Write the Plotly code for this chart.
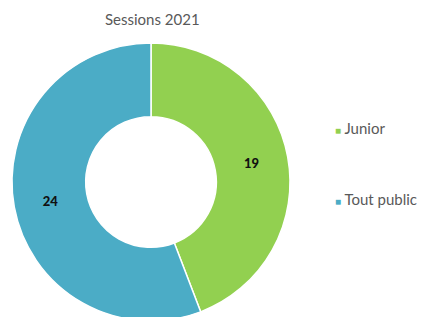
import plotly.graph_objects as go

title = "Sessions 2021"
labels = ["Junior", "Tout public"]
values = [19, 24]
colors = ["#92D050", "#4BACC6"]

W, H = 428, 317
MT, MB = 35, 4
PH = H - MT - MB

def py(yfig):
    return (H - MB - yfig) / PH

fig = go.Figure()
fig.add_trace(go.Pie(
    labels=labels,
    values=values,
    hole=0.47,
    sort=False,
    direction="clockwise",
    rotation=0,
    marker=dict(colors=colors, line=dict(color="white", width=1.5)),
    texttemplate="%{value}",
    textposition="inside",
    insidetextorientation="horizontal",
    textfont=dict(family="Lato, Arial, sans-serif", size=13, color="#111111", weight=900),
    showlegend=False,
    domain=dict(x=[4/W, 282/W], y=[0, 1]),
))

leg_y = [120, 191]
for lab, col, yy in zip(labels, colors, leg_y):
    fig.add_annotation(
        text=f'<span style="color:{col};font-size:10px">■</span> {lab}',
        x=325/W, y=py(yy), xref="paper", yref="paper",
        xanchor="left", yanchor="middle", showarrow=False,
        font=dict(family="Lato, Arial, sans-serif", size=15, color="#595959"),
    )

fig.add_annotation(
    text=title, x=144/W, y=py(11), xref="paper", yref="paper",
    xanchor="center", yanchor="middle", showarrow=False,
    font=dict(family="Lato, Arial, sans-serif", size=15, color="#595959"),
)

fig.update_layout(
    width=W, height=H,
    margin=dict(l=0, r=0, t=MT, b=MB),
    paper_bgcolor="white", plot_bgcolor="white",
)
fig.write_html("out.html")
